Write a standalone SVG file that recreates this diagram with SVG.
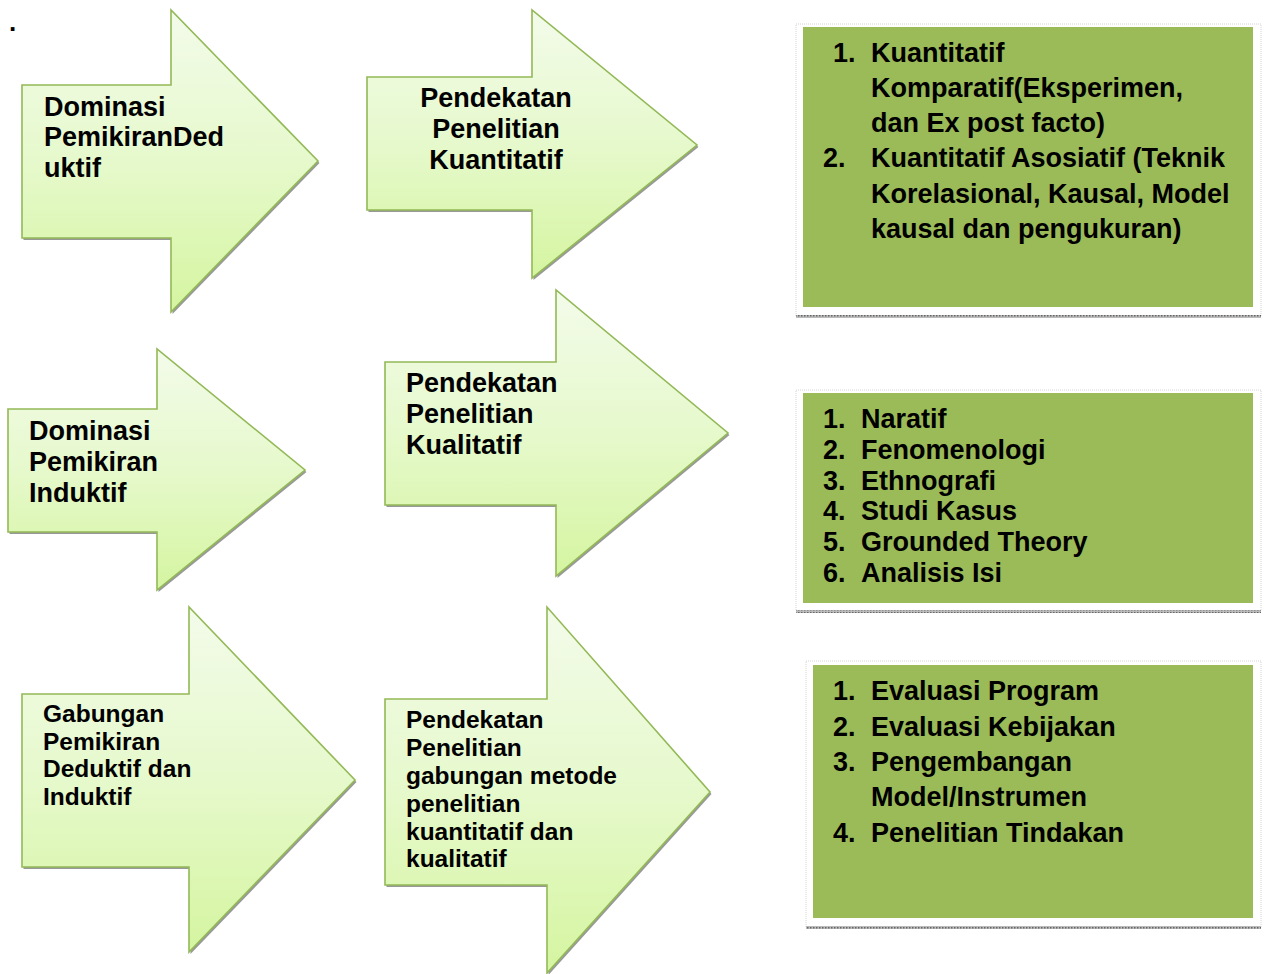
<svg xmlns="http://www.w3.org/2000/svg" width="1267" height="974" viewBox="0 0 1267 974">
<defs>
<linearGradient id="ag" x1="0" y1="0" x2="0" y2="1">
<stop offset="0" stop-color="#f3fbea"/>
<stop offset="0.5" stop-color="#e6f9cc"/>
<stop offset="1" stop-color="#d5f5a0"/>
</linearGradient>
<pattern id="dots" width="3" height="3" patternUnits="userSpaceOnUse">
<rect width="3" height="3" fill="#bbb"/>
<rect width="1.5" height="1.5" fill="#666"/>
</pattern>
</defs>
<style>
.arrow{fill:url(#ag);stroke:#93b957;stroke-width:1.6;stroke-linejoin:miter}
.shadow{fill:#777;opacity:0.75}
.t{font-family:"Liberation Sans",Arial,sans-serif;font-weight:bold;fill:#000}
.a{font-size:27px}
.s{font-size:24.5px}
.box{fill:#9bbb59}
.frame{fill:#fff;stroke:#d4d4d4;stroke-width:1;stroke-dasharray:1 1}
</style>
<rect width="1267" height="974" fill="#fff"/>
<text class="t" x="9" y="31" style="font-size:26px">.</text>

<g id="connectors"></g>

<g id="arrow1">
<polygon class="shadow" transform="translate(1.5,2)" points="22,85 171,85 171,10 318,161 171,312 171,238 22,238"/>
<polygon class="arrow" points="22,85 171,85 171,10 318,161 171,312 171,238 22,238"/>
<text class="t a" x="44" y="116">Dominasi</text>
<text class="t a" x="44" y="146">PemikiranDed</text>
<text class="t a" x="44" y="177">uktif</text>
</g>

<g id="arrow2">
<polygon class="shadow" transform="translate(1.5,2)" points="367,77 532,77 532,10 697,145 532,278 532,210 367,210"/>
<polygon class="arrow" points="367,77 532,77 532,10 697,145 532,278 532,210 367,210"/>
<text class="t a" x="496" y="107" text-anchor="middle">Pendekatan</text>
<text class="t a" x="496" y="138" text-anchor="middle">Penelitian</text>
<text class="t a" x="496" y="169" text-anchor="middle">Kuantitatif</text>
</g>

<g id="arrow3">
<polygon class="shadow" transform="translate(1.5,2)" points="8,409 157,409 157,349 305,470 157,590 157,532 8,532"/>
<polygon class="arrow" points="8,409 157,409 157,349 305,470 157,590 157,532 8,532"/>
<text class="t a" x="29" y="440">Dominasi</text>
<text class="t a" x="29" y="471">Pemikiran</text>
<text class="t a" x="29" y="502">Induktif</text>
</g>

<g id="arrow4">
<polygon class="shadow" transform="translate(1.5,2)" points="385,362 556,362 556,290 728,433 556,576 556,505 385,505"/>
<polygon class="arrow" points="385,362 556,362 556,290 728,433 556,576 556,505 385,505"/>
<text class="t a" x="406" y="392">Pendekatan</text>
<text class="t a" x="406" y="423">Penelitian</text>
<text class="t a" x="406" y="454">Kualitatif</text>
</g>

<g id="arrow5">
<polygon class="shadow" transform="translate(1.5,2)" points="22,694 189,694 189,607 355,780 189,952 189,867 22,867"/>
<polygon class="arrow" points="22,694 189,694 189,607 355,780 189,952 189,867 22,867"/>
<text class="t s" x="43" y="722">Gabungan</text>
<text class="t s" x="43" y="750">Pemikiran</text>
<text class="t s" x="43" y="777">Deduktif dan</text>
<text class="t s" x="43" y="805">Induktif</text>
</g>

<g id="arrow6">
<polygon class="shadow" transform="translate(1.5,2)" points="385,699 547,699 547,607 710,792 547,973 547,885 385,885"/>
<polygon class="arrow" points="385,699 547,699 547,607 710,792 547,973 547,885 385,885"/>
<text class="t s" x="406" y="728">Pendekatan</text>
<text class="t s" x="406" y="756">Penelitian</text>
<text class="t s" x="406" y="784">gabungan metode</text>
<text class="t s" x="406" y="812">penelitian</text>
<text class="t s" x="406" y="840">kuantitatif dan</text>
<text class="t s" x="406" y="867">kualitatif</text>
</g>

<g id="box1">
<rect class="frame" x="796" y="24" width="465" height="292"/>
<rect x="796" y="315" width="465" height="3" fill="url(#dots)"/>
<rect class="box" x="803" y="27" width="450" height="280"/>
<text class="t a" x="833" y="62">1.</text>
<text class="t a" x="871" y="62">Kuantitatif</text>
<text class="t a" x="871" y="97">Komparatif(Eksperimen,</text>
<text class="t a" x="871" y="132">dan Ex post facto)</text>
<text class="t a" x="823" y="167">2.</text>
<text class="t a" x="871" y="167">Kuantitatif Asosiatif (Teknik</text>
<text class="t a" x="871" y="203">Korelasional, Kausal, Model</text>
<text class="t a" x="871" y="238">kausal dan pengukuran)</text>
</g>

<g id="box2">
<rect class="frame" x="796" y="390" width="465" height="221"/>
<rect x="796" y="610" width="465" height="3" fill="url(#dots)"/>
<rect class="box" x="803" y="393" width="450" height="210"/>
<text class="t a" x="823" y="428">1.</text><text class="t a" x="861" y="428">Naratif</text>
<text class="t a" x="823" y="459">2.</text><text class="t a" x="861" y="459">Fenomenologi</text>
<text class="t a" x="823" y="490">3.</text><text class="t a" x="861" y="490">Ethnografi</text>
<text class="t a" x="823" y="520">4.</text><text class="t a" x="861" y="520">Studi Kasus</text>
<text class="t a" x="823" y="551">5.</text><text class="t a" x="861" y="551">Grounded Theory</text>
<text class="t a" x="823" y="582">6.</text><text class="t a" x="861" y="582">Analisis Isi</text>
</g>

<g id="box3">
<rect class="frame" x="806" y="661" width="455" height="266"/>
<rect x="806" y="926" width="455" height="3" fill="url(#dots)"/>
<rect class="box" x="813" y="665" width="440" height="253"/>
<text class="t a" x="833" y="700">1.</text><text class="t a" x="871" y="700">Evaluasi Program</text>
<text class="t a" x="833" y="736">2.</text><text class="t a" x="871" y="736">Evaluasi Kebijakan</text>
<text class="t a" x="833" y="771">3.</text><text class="t a" x="871" y="771">Pengembangan</text>
<text class="t a" x="871" y="806">Model/Instrumen</text>
<text class="t a" x="833" y="842">4.</text><text class="t a" x="871" y="842">Penelitian Tindakan</text>
</g>
</svg>
